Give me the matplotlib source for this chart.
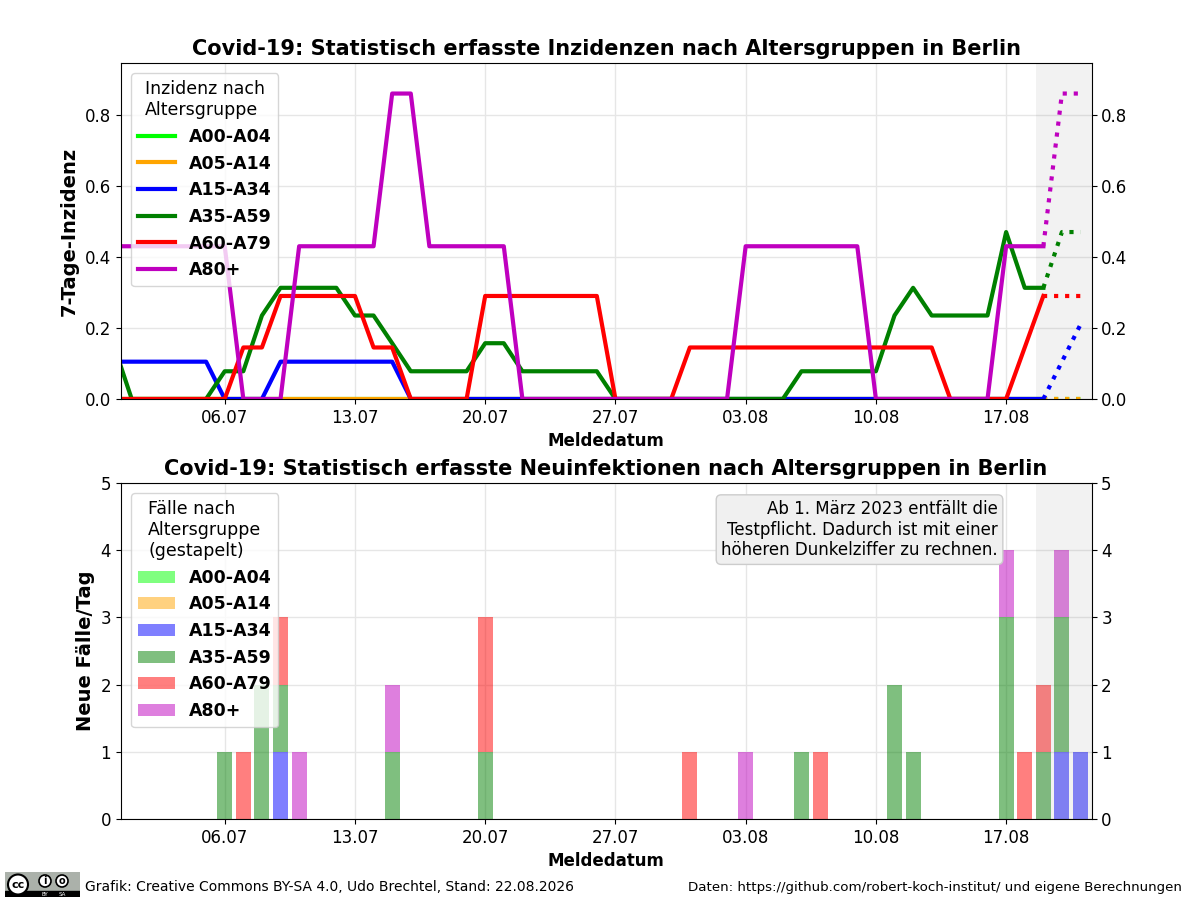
import matplotlib
matplotlib.use('Agg')
import matplotlib.pyplot as plt
import matplotlib.dates as mdates
from matplotlib.patches import Rectangle, Circle
import pandas as pd

# Tage 30.06. - 21.08.2026
days = pd.date_range('2026-06-30', '2026-08-21', freq='D')

groups = ['A00-A04', 'A05-A14', 'A15-A34', 'A35-A59', 'A60-A79', 'A80+']
colors = ['lime', 'orange', 'blue', 'green', 'red', 'm']

# 7-Tage-Inzidenz je Altersgruppe (eine Zeile = eine Woche ab Di)
inz_a00 = [0, 0, 0, 0, 0, 0, 0,  0, 0, 0, 0, 0, 0, 0,  0, 0, 0, 0, 0, 0, 0,
           0, 0, 0, 0, 0, 0, 0,  0, 0, 0, 0, 0, 0, 0,  0, 0, 0, 0, 0, 0, 0,
           0, 0, 0, 0, 0, 0, 0,  0, 0, 0, 0]
inz_a05 = [0, 0, 0, 0, 0, 0, 0,  0, 0, 0, 0, 0, 0, 0,  0, 0, 0, 0, 0, 0, 0,
           0, 0, 0, 0, 0, 0, 0,  0, 0, 0, 0, 0, 0, 0,  0, 0, 0, 0, 0, 0, 0,
           0, 0, 0, 0, 0, 0, 0,  0, 0, 0, 0]
inz_a15 = [.105, .105, .105, .105, .105, .105, 0,
           0, 0, .105, .105, .105, .105, .105,
           .105, .105, 0, 0, 0, 0, 0,
           0, 0, 0, 0, 0, 0, 0,
           0, 0, 0, 0, 0, 0, 0,
           0, 0, 0, 0, 0, 0, 0,
           0, 0, 0, 0, 0, 0, 0,
           0, 0, .105, .21]
inz_a35 = [.157, 0, 0, 0, 0, 0, .078,
           .078, .235, .313, .313, .313, .313, .235,
           .235, .157, .078, .078, .078, .078, .157,
           .157, .078, .078, .078, .078, .078, 0,
           0, 0, 0, 0, 0, 0, 0,
           0, 0, .078, .078, .078, .078, .078,
           .235, .313, .235, .235, .235, .235, .47,
           .313, .313, .47, .47]
inz_a60 = [0, 0, 0, 0, 0, 0, 0,
           .145, .145, .29, .29, .29, .29, .29,
           .145, .145, 0, 0, 0, 0, .29,
           .29, .29, .29, .29, .29, .29, 0,
           0, 0, 0, .145, .145, .145, .145,
           .145, .145, .145, .145, .145, .145, .145,
           .145, .145, .145, 0, 0, 0, 0,
           .145, .29, .29, .29]
inz_a80 = [.43, .43, .43, .43, .43, .43, .43,
           0, 0, 0, .43, .43, .43, .43,
           .43, .86, .86, .43, .43, .43, .43,
           .43, 0, 0, 0, 0, 0, 0,
           0, 0, 0, 0, 0, 0, .43,
           .43, .43, .43, .43, .43, .43, 0,
           0, 0, 0, 0, 0, 0, .43,
           .43, .43, .86, .86]

# Neue Faelle pro Tag
fall_a00 = [0] * 53
fall_a05 = [0] * 53
fall_a15 = [0, 0, 0, 0, 0, 0, 0,  0, 0, 1, 0, 0, 0, 0,  0, 0, 0, 0, 0, 0, 0,
            0, 0, 0, 0, 0, 0, 0,  0, 0, 0, 0, 0, 0, 0,  0, 0, 0, 0, 0, 0, 0,
            0, 0, 0, 0, 0, 0, 0,  0, 0, 1, 1]
fall_a35 = [0, 0, 0, 0, 0, 0, 1,  0, 2, 1, 0, 0, 0, 0,  0, 1, 0, 0, 0, 0, 1,
            0, 0, 0, 0, 0, 0, 0,  0, 0, 0, 0, 0, 0, 0,  0, 0, 1, 0, 0, 0, 0,
            2, 1, 0, 0, 0, 0, 3,  0, 1, 2, 0]
fall_a60 = [0, 0, 0, 0, 0, 0, 0,  1, 0, 1, 0, 0, 0, 0,  0, 0, 0, 0, 0, 0, 2,
            0, 0, 0, 0, 0, 0, 0,  0, 0, 0, 1, 0, 0, 0,  0, 0, 0, 1, 0, 0, 0,
            0, 0, 0, 0, 0, 0, 0,  1, 1, 0, 0]
fall_a80 = [0, 0, 0, 0, 0, 0, 0,  0, 0, 0, 1, 0, 0, 0,  0, 1, 0, 0, 0, 0, 0,
            0, 0, 0, 0, 0, 0, 0,  0, 0, 0, 0, 0, 0, 1,  0, 0, 0, 0, 0, 0, 0,
            0, 0, 0, 0, 0, 0, 1,  0, 0, 1, 0]

inz = [inz_a00, inz_a05, inz_a15, inz_a35, inz_a60, inz_a80]
faelle = [fall_a00, fall_a05, fall_a15, fall_a35, fall_a60, fall_a80]

n_sure = 51   # bis 19.08. sicher, danach gepunktet
x = mdates.date2num(days)
xmin = x[0] + 0.41
xmax = x[-1] + 0.59
shade_from = x[-3] - 0.4

fig = plt.figure(figsize=(12, 9), dpi=100)
ax1 = fig.add_axes([0.1006, 0.5567, 0.809, 0.3733])
ax2 = fig.add_axes([0.1006, 0.09, 0.809, 0.3733])

leg_kw = dict(loc='upper left', prop={'size': 12.5, 'weight': 'bold'},
              title_fontsize=12.5, handlelength=2.1, borderaxespad=0.6)

# --- oben: Inzidenzen
for vals, col, name in zip(inz, colors, groups):
    ax1.plot(x[:n_sure], vals[:n_sure], color=col, lw=3, label=name)
for vals, col in zip(inz, colors):
    ax1.plot(x[n_sure - 1:], vals[n_sure - 1:], color=col, lw=3, ls=':')

ax1.axvspan(shade_from, xmax + 1, color='gray', alpha=0.1, lw=0)
ax1.set_xlim(xmin, xmax)
ax1.set_ylim(0, max(inz_a80) * 1.1)
ax1.set_title('Covid-19: Statistisch erfasste Inzidenzen nach Altersgruppen in Berlin',
              fontsize=15, fontweight='bold')
ax1.set_ylabel('7-Tage-Inzidenz', fontsize=14, fontweight='bold')
ax1.set_xlabel('Meldedatum', fontsize=12, fontweight='bold')
ax1.legend(title='Inzidenz nach\nAltersgruppe', **leg_kw)

# --- unten: gestapelte Faelle
bottom = [0] * 53
for vals, col, name in zip(faelle, colors, groups):
    ax2.bar(x, vals, width=0.8, bottom=bottom, color=col, alpha=0.5, label=name)
    bottom = [b + v for b, v in zip(bottom, vals)]

ax2.axvspan(shade_from, xmax + 1, color='gray', alpha=0.1, lw=0)
ax2.set_xlim(xmin, xmax)
ax2.set_ylim(0, 5)
ax2.set_title('Covid-19: Statistisch erfasste Neuinfektionen nach Altersgruppen in Berlin',
              fontsize=15, fontweight='bold')
ax2.set_ylabel('Neue Fälle/Tag', fontsize=14, fontweight='bold')
ax2.set_xlabel('Meldedatum', fontsize=12, fontweight='bold')
ax2.legend(title='Fälle nach\nAltersgruppe\n(gestapelt)', **leg_kw)
ax2.text(0.9035, 0.95, 'Ab 1. März 2023 entfällt die\nTestpflicht. Dadurch ist mit einer\n'
         'höheren Dunkelziffer zu rechnen.', transform=ax2.transAxes,
         ha='right', va='top', fontsize=12, multialignment='right',
         bbox=dict(boxstyle='round', facecolor='#f0f0f0', edgecolor='#cccccc'))

for ax in (ax1, ax2):
    ax.xaxis.set_major_locator(mdates.WeekdayLocator(byweekday=mdates.MO))
    ax.xaxis.set_major_formatter(mdates.DateFormatter('%d.%m'))
    ax.tick_params(labelsize=12, right=True, labelright=True)
    ax.grid(True, color='#e6e6e6', lw=1)
    ax.set_axisbelow(True)

# Fusszeile
fig.text(85 / 1200, 1 - 887 / 900,
         'Grafik: Creative Commons BY-SA 4.0, Udo Brechtel, Stand: 22.08.2026',
         fontsize=10, va='center')
fig.text(1182 / 1200, 1 - 887 / 900,
         'Daten: https://github.com/robert-koch-institut/ und eigene Berechnungen',
         fontsize=9.6, va='center', ha='right')

# CC BY-SA Logo (vereinfacht)
lax = fig.add_axes([5 / 1200, 3 / 900, 75 / 1200, 25 / 900])
lax.set_xlim(0, 75)
lax.set_ylim(0, 25)
lax.axis('off')
lax.add_patch(Rectangle((0, 0), 75, 25, color='#abb1aa'))
lax.add_patch(Rectangle((0, 0), 75, 6, color='black'))
lax.add_patch(Circle((13, 12.5), 10, facecolor='white', edgecolor='black', lw=1.5))
lax.text(13, 12.5, 'cc', fontsize=8, fontweight='bold', ha='center', va='center')
lax.add_patch(Circle((40, 16), 6, facecolor='white', edgecolor='black', lw=1.2))
lax.text(40, 16, 'i', fontsize=7, fontweight='bold', ha='center', va='center')
lax.add_patch(Circle((57, 16), 6, facecolor='white', edgecolor='black', lw=1.2))
lax.text(57, 16, 'o', fontsize=7, fontweight='bold', ha='center', va='center')
lax.text(40, 3, 'BY', fontsize=4, color='white', ha='center', va='center')
lax.text(57, 3, 'SA', fontsize=4, color='white', ha='center', va='center')

fig.savefig('out.png', dpi=100)
